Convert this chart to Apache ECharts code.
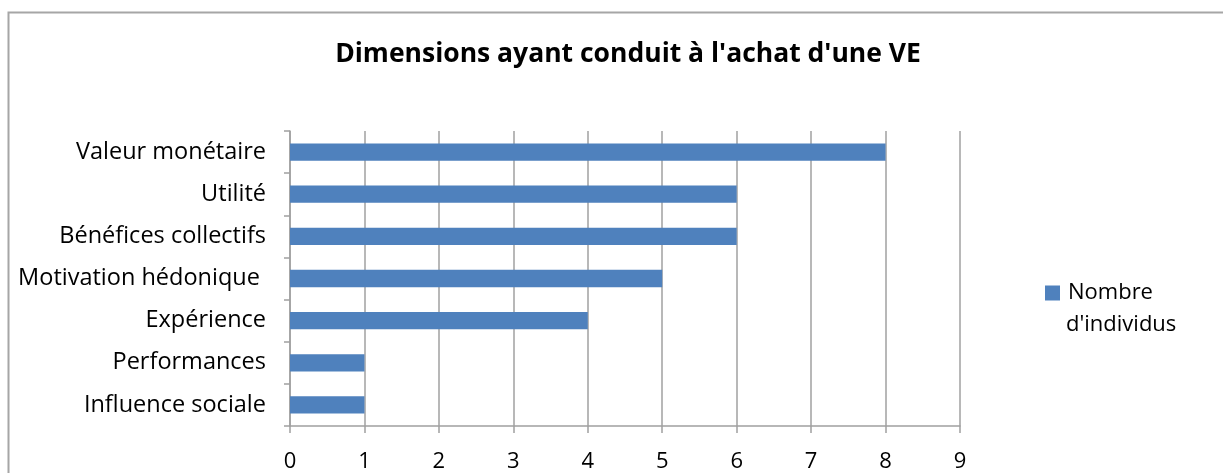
<!DOCTYPE html>
<html>
<head>
<meta charset="utf-8">
<script src="https://cdn.jsdelivr.net/npm/echarts@6/dist/echarts.min.js"></script>
<style>
  html, body { margin: 0; padding: 0; background: #fff; }
  #chart { width: 1223px; height: 473px; }
</style>
</head>
<body>
<div id="chart"></div>
<script>
const categories = ["Influence sociale", "Performances", "Expérience", "Motivation hédonique ", "Bénéfices collectifs", "Utilité", "Valeur monétaire"];
const values = [1, 1, 4, 5, 6, 6, 8];
const seriesName = "Nombre d'individus";
const legendLines = ["Nombre", "d'individus"];
const titleText = "Dimensions ayant conduit à l'achat d'une VE";

const FONT = "Open Sans";
const chart = echarts.init(document.getElementById('chart'), null, { renderer: 'canvas' });
chart.setOption({
  animation: false,
  backgroundColor: '#fff',
  graphic: [{
    type: 'polyline',
    shape: { points: [[8.5, 480], [8.5, 12.5], [1230, 12.5]] },
    style: { stroke: '#a6a6a6', lineWidth: 2, fill: null },
    silent: true
  }, {
    type: 'text',
    left: 1066, top: 314,
    style: { text: legendLines[1], fontFamily: FONT, fontSize: 22, fill: '#000' },
    silent: true
  }],
  title: {
    text: titleText,
    left: 623, top: 36, textAlign: 'center',
    textStyle: { fontFamily: FONT, fontWeight: 'bold', fontSize: 26.5, color: '#000' }
  },
  legend: {
    left: 1045, top: 282, padding: 0,
    itemWidth: 15, itemHeight: 15, itemGap: 0,
    icon: 'rect',
    formatter: () => legendLines[0],
    textStyle: { fontFamily: FONT, fontSize: 22, color: '#000', padding: [0, 0, 0, 3] },
    data: [seriesName]
  },
  grid: { left: 290, right: 263, top: 131, bottom: 46, containLabel: false },
  xAxis: {
    type: 'value', min: 0, max: 9, interval: 1,
    axisLine: { show: true, lineStyle: { color: '#a0a0a0', width: 1.5 } },
    axisTick: { show: true, length: 7, lineStyle: { color: '#a0a0a0', width: 1.5 } },
    splitLine: { show: true, lineStyle: { color: '#a0a0a0', width: 1.5 } },
    axisLabel: { fontFamily: FONT, fontSize: 22, color: '#000', margin: 25 }
  },
  yAxis: {
    type: 'category', data: categories,
    axisLine: { show: true, lineStyle: { color: '#a0a0a0', width: 1.5 } },
    axisTick: { show: true, length: 6, lineStyle: { color: '#a0a0a0', width: 1.5 } },
    axisLabel: { fontFamily: FONT, fontSize: 23.5, color: '#000', margin: 24 }
  },
  series: [{
    name: seriesName, type: 'bar', data: values,
    barCategoryGap: '59%',
    itemStyle: { color: '#4f81bd' }
  }]
});
</script>
</body>
</html>
